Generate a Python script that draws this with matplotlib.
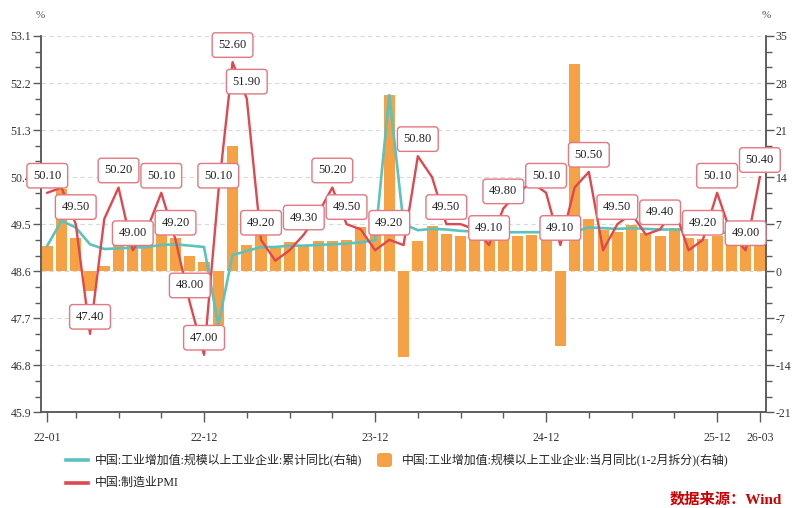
import numpy as np
import matplotlib
matplotlib.use("Agg")
import matplotlib.pyplot as plt
from matplotlib.lines import Line2D
from matplotlib.patches import FancyBboxPatch
from matplotlib.transforms import IdentityTransform
from matplotlib.ticker import FixedLocator

# ---- data -----------------------------------------------------------------
months = [f"{y:02d}-{m:02d}" for y in range(22, 27) for m in range(1, 13)][:51]

# manufacturing PMI (left axis)
pmi = [50.1, 50.2, 49.5, 47.4, 49.6, 50.2, 49.0, 49.4, 50.1, 49.2, 48.0, 47.0,
       50.1, 52.6, 51.9, 49.2, 48.8, 49.0, 49.3, 49.7, 50.2, 49.5, 49.4, 49.0,
       49.2, 49.1, 50.8, 50.4, 49.5, 49.5, 49.4, 49.1, 49.8, 50.1, 50.3, 50.1,
       49.1, 50.2, 50.5, 49.0, 49.5, 49.7, 49.3, 49.4, 49.8, 49.0, 49.2, 50.1,
       49.3, 49.0, 50.4]

# industrial value added, cumulative yoy (right axis)
ip_cum = [3.8, 7.5, 6.5, 4.0, 3.3, 3.4, 3.5, 3.6, 3.9, 4.0, 3.8, 3.6,
          -8.0, 2.4, 3.0, 3.6, 3.6, 3.8, 3.8, 3.9, 4.0, 4.1, 4.3, 4.6,
          26.2, 7.0, 6.1, 6.3, 6.2, 6.0, 5.9, 5.8, 5.8, 5.8, 5.8, 5.8,
          np.nan, 5.9, 6.5, 6.4, 6.3, 6.4, 6.3, 6.2, 6.2, 6.1, 6.0, 5.9,
          np.nan, 5.3, 5.5]

# industrial value added, monthly yoy with Jan/Feb split (right axis)
ip_month = [3.8, 12.3, 5.0, -2.9, 0.7, 3.9, 3.8, 4.2, 6.3, 5.0, 2.2, 1.3,
            -8.0, 18.7, 3.9, 5.6, 3.5, 4.4, 3.7, 4.5, 4.5, 4.6, 6.6, 6.8,
            26.2, -12.7, 4.5, 6.7, 5.6, 5.3, 5.1, 4.5, 5.4, 5.3, 5.4, 6.2,
            -11.2, 30.9, 7.7, 6.1, 5.8, 6.8, 5.7, 5.2, 6.5, 4.9, 4.8, 5.2,
            5.6, 5.0, 5.4]

tick_labels = ["22-01", "22-12", "23-12", "24-12", "25-12", "26-03"]
pmi_labeled = ["22-01", "22-03", "22-04", "22-06", "22-07", "22-09", "22-10",
               "22-11", "22-12", "23-01", "23-02", "23-03", "23-04", "23-07",
               "23-09", "23-10", "24-01", "24-03", "24-05", "24-08", "24-09",
               "24-12", "25-01", "25-03", "25-05", "25-08", "25-11", "25-12",
               "26-02", "26-03"]

name_cum = "中国:工业增加值:规模以上工业企业:累计同比(右轴)"
name_month = "中国:工业增加值:规模以上工业企业:当月同比(1-2月拆分)(右轴)"
name_pmi = "中国:制造业PMI"
source_text = "数据来源：Wind"

# ---- style ----------------------------------------------------------------
TEAL = "#5cc2bc"
ORANGE = "#f6a143"
RED = "#e04850"
BOX_EDGE = "#e27880"
AXIS = "#5a5a5a"
SERIF = ["Liberation Serif", "Noto Sans CJK SC"]
CJK = ["Liberation Serif", "Noto Sans CJK SC"]

W, H = 792, 508
fig = plt.figure(figsize=(W / 100, H / 100), dpi=100)
fig.patch.set_facecolor("white")

axr = fig.add_axes([41 / W, 1 - 412.3 / H, 725 / W, 376.3 / H])
axl = axr.twinx()
axr.yaxis.tick_right()
axr.yaxis.set_label_position("right")
axl.yaxis.tick_left()
axl.yaxis.set_label_position("left")

x = np.arange(len(months))
cum = np.array(ip_cum, dtype=float)
ok = ~np.isnan(cum)

# bars and cumulative line on the right scale
axr.bar(x, ip_month, width=0.78, color=ORANGE, zorder=2)
axr.plot(x[ok], cum[ok], color=TEAL, lw=1.9, zorder=3)

# PMI on the left scale
axl.plot(x, pmi, color=RED, lw=1.7, zorder=4)
for m in pmi_labeled:
    i = months.index(m)
    v = pmi[i]
    axl.annotate(f"{v:.2f}", (i, v), xytext=(0, 12.3), textcoords="offset points",
                 ha="center", va="center", fontsize=9, family=SERIF, color="#222222",
                 bbox=dict(boxstyle="round,pad=0.5,rounding_size=0.25", fc="white",
                           ec=BOX_EDGE, lw=1.0),
                 zorder=10, annotation_clip=False)

# axes limits and ticks
axr.set_xlim(-0.44, 50.43)
axr.set_ylim(-21, 35)
axl.set_ylim(45.9, 53.1)

r_major = np.arange(-21, 36, 7)
axr.yaxis.set_major_locator(FixedLocator(r_major))
axr.yaxis.set_minor_locator(FixedLocator(np.arange(-21, 35.01, 7 / 3)))
axr.set_yticklabels([f"{v:d}" for v in r_major])

l_major = np.round(np.arange(45.9, 53.11, 0.9), 1)
axl.yaxis.set_major_locator(FixedLocator(l_major))
axl.yaxis.set_minor_locator(FixedLocator(np.arange(45.9, 53.11, 0.3)))
axl.set_yticklabels([f"{v:.1f}" for v in l_major])

major_x = [months.index(t) for t in tick_labels]
minor_x = [i for i in range(2, len(months), 3) if i not in major_x]
axr.set_xticks(major_x)
axr.set_xticklabels(tick_labels)
axr.set_xticks(minor_x, minor=True)

for ax in (axr, axl):
    ax.tick_params(axis="both", which="major", direction="out", length=6,
                   width=1, color=AXIS, labelsize=8.5, labelcolor="#333333", pad=1)
    ax.tick_params(axis="both", which="minor", direction="out", length=4,
                   width=1, color=AXIS)
    for lab in ax.get_xticklabels() + ax.get_yticklabels():
        lab.set_family(SERIF)
    ax.spines["top"].set_visible(False)
    for s in ("left", "right", "bottom"):
        ax.spines[s].set_color(AXIS)
        ax.spines[s].set_linewidth(1.1)
axr.tick_params(axis="x", which="major", pad=7, length=7)

# dashed horizontal grid
axr.set_axisbelow(True)
axr.yaxis.grid(True, which="major", color="#d9d9d9", lw=0.8, ls=(0, (4, 3)), zorder=0)

# unit marks
fig.text(40 / W, 1 - 16 / H, "%", ha="center", va="center", fontsize=8,
         family=SERIF, color="#555555")
fig.text(766 / W, 1 - 16 / H, "%", ha="center", va="center", fontsize=8,
         family=SERIF, color="#555555")

# legend
ly1, ly2 = 1 - 460 / H, 1 - 483 / H
fig.add_artist(Line2D([66 / W, 88 / W], [ly1, ly1], transform=fig.transFigure,
                      color=TEAL, lw=2.6))
fig.text(95 / W, ly1, name_cum, ha="left", va="center", fontsize=8.6,
         family=CJK, color="#222222")
fig.add_artist(FancyBboxPatch((377, H - 467), 15, 14,
                              boxstyle="round,pad=0,rounding_size=3",
                              transform=IdentityTransform(), fc=ORANGE, ec="none"))
fig.text(402 / W, ly1, name_month, ha="left", va="center", fontsize=8.6,
         family=CJK, color="#222222")
fig.add_artist(Line2D([66 / W, 88 / W], [ly2, ly2], transform=fig.transFigure,
                      color=RED, lw=2.6))
fig.text(95 / W, ly2, name_pmi, ha="left", va="center", fontsize=8.6,
         family=CJK, color="#222222")

# source note
fig.text(782 / W, 1 - 499 / H, source_text, ha="right", va="center", fontsize=11,
         family=CJK, color="#cc0000", fontweight="bold")

fig.savefig("out.png", dpi=100)
